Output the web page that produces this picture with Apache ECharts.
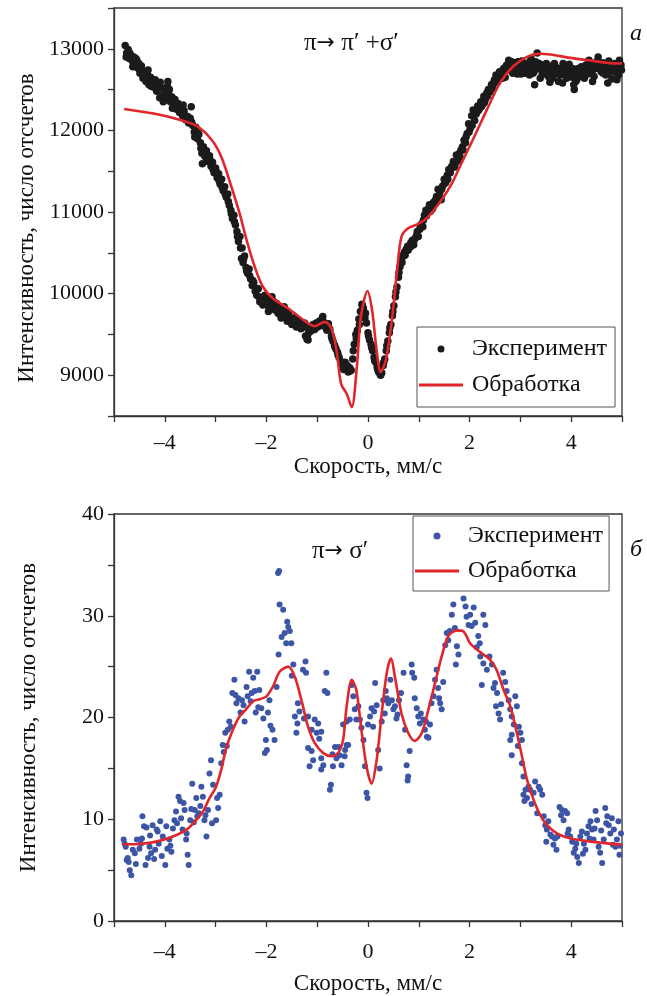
<!DOCTYPE html>
<html>
<head>
<meta charset="utf-8">
<script src="https://cdn.jsdelivr.net/npm/echarts@6/dist/echarts.min.js"></script>
<style>
    html, body { margin: 0; padding: 0; background: #fff; }
    #main { width: 647px; height: 996px; }
</style>
</head>
<body>
<div id="main"></div>
<script>
// панель а: эксперимент (скорость, мм/с ; число отсчетов)
var expA = [
    [-4.78,13040],[-4.75,12950],[-4.72,12990],[-4.70,12880],[-4.67,12920],[-4.64,12850],[-4.61,12900],[-4.58,12780],
    [-4.55,12860],[-4.52,12760],[-4.49,12700],[-4.46,12790],[-4.43,12640],[-4.40,12720],[-4.37,12600],[-4.34,12680],
    [-4.31,12560],[-4.28,12650],[-4.25,12590],[-4.22,12530],[-4.19,12620],[-4.16,12480],[-4.13,12560],[-4.10,12400],
    [-4.07,12520],[-4.04,12430],[-4.01,12480],[-3.98,12380],[-3.95,12540],[-3.92,12440],[-3.89,12350],[-3.86,12410],
    [-3.83,12300],[-3.80,12380],[-3.77,12260],[-3.74,12330],[-3.71,12220],[-3.68,12290],[-3.65,12180],[-3.62,12240],
    [-3.59,12130],[-3.53,12090],[-3.50,12150],[-3.48,12290],[-3.45,12060],[-3.42,11980],[-3.39,12040],[-3.36,11900],
    [-3.33,11950],[-3.30,11850],[-3.27,11720],[-3.24,11800],[-3.21,11680],[-3.18,11750],[-3.15,11620],[-3.12,11690],
    [-3.09,11560],[-3.06,11610],[-3.03,11480],[-3.00,11540],[-2.97,11420],[-2.94,11470],[-2.91,11340],[-2.88,11400],
    [-2.85,11260],[-2.82,11310],[-2.79,11180],[-2.76,11220],[-2.73,11080],[-2.70,11020],[-2.67,10920],[-2.64,10960],
    [-2.61,10840],[-2.58,10760],[-2.55,10640],[-2.52,10700],[-2.49,10430],[-2.46,10380],[-2.43,10460],[-2.40,10320],
    [-2.37,10250],[-2.34,10300],[-2.31,10180],[-2.28,10100],[-2.25,10140],[-2.22,10030],[-2.19,9980],[-2.16,10060],
    [-2.13,9900],[-2.10,9950],[-2.07,9860],[-2.04,9920],[-2.01,9870],[-1.98,9940],[-1.95,9830],[-1.92,9880],
    [-1.89,9960],[-1.86,9850],[-1.83,9800],[-1.80,9880],[-1.77,9760],[-1.74,9820],[-1.71,9700],[-1.68,9780],
    [-1.65,9840],[-1.62,9720],[-1.59,9660],[-1.56,9740],[-1.53,9680],[-1.50,9620],[-1.47,9700],[-1.44,9640],
    [-1.41,9590],[-1.38,9660],[-1.35,9610],[-1.32,9570],[-1.29,9640],[-1.26,9590],[-1.23,9480],[-1.20,9440],
    [-1.17,9520],[-1.14,9580],[-1.11,9560],[-1.08,9620],[-1.05,9560],[-1.02,9640],[-0.99,9590],[-0.96,9660],
    [-0.93,9610],[-0.90,9700],[-0.87,9650],[-0.84,9590],[-0.81,9550],[-0.78,9630],[-0.75,9560],[-0.72,9480],
    [-0.69,9420],[-0.66,9370],[-0.63,9320],[-0.60,9280],[-0.57,9220],[-0.54,9170],[-0.51,9120],[-0.48,9070],
    [-0.45,9160],[-0.42,9080],[-0.39,9040],[-0.36,9090],[-0.33,9060],[-0.30,9200],[-0.27,9380],[-0.24,9500],
    [-0.21,9550],[-0.18,9690],[-0.15,9780],[-0.12,9870],[-0.09,9820],[-0.06,9700],[-0.03,9640],[0.00,9520],
    [0.03,9430],[0.06,9380],[0.09,9300],[0.12,9220],[0.15,9160],[0.18,9100],[0.21,9040],[0.24,9010],
    [0.27,9030],[0.30,9120],[0.33,9200],[0.36,9300],[0.39,9420],[0.42,9520],[0.45,9620],[0.48,9730],
    [0.51,9850],[0.54,9960],[0.57,10080],[0.60,10200],[0.63,10330],[0.66,10420],[0.69,10470],[0.72,10510],
    [0.75,10540],[0.78,10580],[0.81,10560],[0.84,10620],[0.87,10650],[0.90,10600],[0.93,10680],[0.96,10720],
    [0.99,10700],[1.02,10790],[1.05,10850],[1.08,10820],[1.11,10960],[1.14,11020],[1.17,10990],[1.20,11050],
    [1.23,11010],[1.26,11080],[1.29,11120],[1.32,11100],[1.35,11190],[1.38,11280],[1.41,11230],[1.44,11150],
    [1.47,11320],[1.50,11400],[1.53,11360],[1.56,11450],[1.59,11520],[1.62,11480],[1.65,11560],[1.68,11620],
    [1.71,11550],[1.74,11700],[1.77,11640],[1.80,11720],[1.83,11760],[1.86,11800],[1.89,11880],[1.92,11850],
    [1.95,11960],[1.98,12080],[2.01,12020],[2.04,12180],[2.07,12250],[2.10,12120],[2.13,12200],[2.16,12300],
    [2.19,12260],[2.22,12350],[2.25,12310],[2.28,12420],[2.31,12380],[2.34,12460],[2.37,12500],[2.40,12470],
    [2.43,12560],[2.46,12520],[2.49,12620],[2.52,12680],[2.55,12590],[2.58,12660],[2.61,12720],[2.64,12690],
    [2.67,12760],[2.70,12650],[2.73,12800],[2.76,12740],[2.79,12820],[2.82,12780],[2.85,12700],[2.88,12830],
    [2.91,12760],[2.94,12690],[2.97,12800],[3.00,12740],[3.03,12850],[3.06,12780],[3.09,12700],[3.12,12820],
    [3.15,12760],[3.18,12680],[3.21,12880],[3.24,12790],[3.27,12720],[3.30,12840],[3.33,12950],[3.36,12760],
    [3.39,12640],[3.42,12800],[3.45,12740],[3.48,12690],[3.51,12820],[3.54,12760],[3.57,12700],[3.60,12790],
    [3.63,12640],[3.66,12720],[3.69,12780],[3.72,12690],[3.75,12600],[3.78,12760],[3.81,12720],[3.84,12820],
    [3.87,12680],[3.90,12760],[3.93,12710],[3.96,12810],[3.99,12740],[4.02,12650],[4.05,12560],[4.08,12700],
    [4.11,12620],[4.14,12760],[4.17,12690],[4.20,12780],[4.23,12720],[4.26,12640],[4.29,12800],[4.32,12740],
    [4.35,12860],[4.38,12790],[4.41,12700],[4.44,12810],[4.47,12760],[4.50,12840],[4.53,12900],[4.56,12780],
    [4.59,12720],[4.62,12830],[4.65,12760],[4.68,12680],[4.71,12800],[4.74,12850],[4.77,12740],[4.80,12630],
    [4.83,12780],[4.86,12820],[4.89,12700],[4.92,12760],[4.95,12860],[4.98,12800],
    [-4.76,12900],[-4.69,12950],[-4.63,12780],[-4.57,12880],[-4.51,12820],[-4.45,12700],[-4.39,12650],[-4.33,12740],
    [-4.27,12540],[-4.21,12600],[-4.15,12540],[-4.09,12590],[-4.03,12350],[-3.97,12470],[-3.91,12500],[-3.85,12270],
    [-3.79,12320],[-3.73,12280],[-3.67,12230],[-3.61,12190],[-3.55,12170],[-3.47,12100],[-3.41,11920],[-3.35,11970],
    [-3.29,11780],[-3.23,11740],[-3.17,11660],[-3.11,11640],[-3.05,11520],[-2.99,11500],[-2.93,11380],[-2.87,11300],
    [-2.81,11220],[-2.75,11130],[-2.69,10980],[-2.63,10880],[-2.57,10700],[-2.51,10560],[-2.45,10420],[-2.39,10280],
    [-2.33,10220],[-2.27,10160],[-2.21,10070],[-2.15,9960],[-2.09,9900],[-2.03,9980],[-1.97,9890],[-1.91,9830],
    [-1.85,9900],[-1.79,9800],[-1.73,9740],[-1.67,9720],[-1.61,9790],[-1.55,9690],[-1.49,9660],[-1.43,9700],
    [-1.37,9620],[-1.31,9600],[-1.25,9640],[-1.19,9490],[-1.13,9540],[-1.07,9590],[-1.01,9600],[-0.95,9630],
    [-0.89,9720],[-0.83,9620],[-0.77,9580],[-0.71,9450],[-0.65,9350],[-0.59,9250],[-0.53,9150],[-0.47,9110],
    [-0.41,9120],[-0.35,9050],[-0.29,9300],[-0.23,9450],[-0.17,9620],[-0.11,9850],[-0.05,9760],[0.01,9480],
    [0.07,9340],[0.13,9180],[0.19,9070],[0.25,9000],[0.31,9160],[0.37,9360],[0.43,9580],[0.49,9780],
    [0.55,10020],[0.61,10260],[0.67,10380],[0.73,10470],[0.79,10530],[0.85,10580],[0.91,10660],[0.97,10760],
    [1.03,10830],[1.09,10900],[1.15,10950],[1.21,11090],[1.27,11040],[1.33,11150],[1.39,11200],[1.45,11280],
    [1.51,11350],[1.57,11400],[1.63,11530],[1.69,11580],[1.75,11620],[1.81,11680],[1.87,11760],[1.93,11920],
    [1.99,11980],[2.05,12060],[2.11,12230],[2.17,12240],[2.23,12290],[2.29,12340],[2.35,12420],[2.41,12510],
    [2.47,12580],[2.53,12600],[2.59,12720],[2.65,12640],[2.71,12780],[2.77,12860],[2.83,12840],[2.89,12750],
    [2.95,12840],[3.01,12690],[3.07,12820],[3.13,12760],[3.19,12840],[3.25,12700],[3.31,12780],[3.37,12820],
    [3.43,12700],[3.49,12780],[3.55,12660],[3.61,12740],[3.67,12820],[3.73,12740],[3.79,12680],[3.85,12760],
    [3.91,12640],[3.97,12700],[4.03,12760],[4.09,12600],[4.15,12700],[4.21,12660],[4.27,12760],[4.33,12690],
    [4.39,12750],[4.45,12660],[4.51,12760],[4.57,12820],[4.63,12700],[4.69,12760],[4.75,12700],[4.81,12800],
    [4.87,12760],[4.93,12680],[4.99,12740],
    [-3.94,12600],[-3.64,12310],[-3.26,11590],[-2.48,10560],[-1.96,9780],[-1.18,9430],[3.28,12560],[3.58,12590],
    [3.83,12580],[4.06,12500],[4.42,12600],[4.72,12580],[4.90,12620]
];
// панель а: обработка
var fitA = [
    [-4.80,12263],[-4.10,12193],[-3.71,12131],[-3.38,12058],[-3.08,11886],[-2.89,11680],[-2.69,11312],[-2.53,10988],
    [-2.39,10657],[-2.23,10329],[-2.07,10084],[-1.87,9941],[-1.57,9818],[-1.31,9695],[-1.05,9600],[-0.85,9654],
    [-0.72,9572],[-0.62,9306],[-0.53,8896],[-0.42,8773],[-0.32,8609],[-0.22,9100],[-0.14,9715],[-0.01,10031],
    [0.08,9797],[0.17,9306],[0.25,9039],[0.35,9183],[0.47,9674],[0.58,10329],[0.66,10698],[0.79,10801],
    [0.99,10854],[1.19,10944],[1.45,11149],[1.66,11360],[1.81,11558],[2.08,11907],[2.34,12254],[2.60,12582],
    [2.86,12786],[3.13,12902],[3.36,12939],[3.59,12930],[3.98,12889],[4.38,12856],[4.71,12828],[5.00,12819]
];
// панель б: эксперимент
var expB = [
    [-4.81,8.0],[-4.77,7.3],[-4.75,6.0],[-4.73,6.2],[-4.69,5.0],[-4.66,4.5],[-4.59,6.65],[-4.55,8.0],
    [-4.50,7.1],[-4.45,8.1],[-4.44,10.3],[-4.41,9.3],[-4.38,5.5],[-4.33,6.2],[-4.30,7.3],[-4.27,6.65],
    [-4.24,9.4],[-4.19,7.0],[-4.16,9.0],[-4.12,7.6],[-4.09,9.8],[-4.04,8.3],[-3.99,5.5],[-3.95,7.1],
    [-3.91,8.0],[-3.87,6.8],[-3.84,9.1],[-3.81,9.9],[-3.78,10.75],[-3.73,12.2],[-3.68,10.1],[-3.65,9.0],
    [-3.61,10.9],[-3.58,8.0],[-3.55,6.5],[-3.53,5.5],[-3.50,9.9],[-3.46,13.5],[-3.41,10.9],[-3.38,12.1],
    [-3.33,10.6],[-3.28,13.2],[-3.25,12.2],[-3.22,9.9],[-3.18,8.3],[-3.15,10.9],[-3.12,14.5],[-3.09,15.8],
    [-3.05,13.4],[-2.99,9.9],[-2.95,11.1],[-2.92,12.4],[-2.89,15.5],[-2.86,17.3],[-2.81,18.5],[-2.76,18.8],
    [-2.73,19.6],[-2.67,22.4],[-2.63,23.7],[-2.59,21.4],[-2.55,21.9],[-2.51,20.5],[-2.48,21.7],[-2.43,19.6],
    [-2.39,23.0],[-2.34,24.5],[-2.29,22.4],[-2.26,23.9],[-2.21,20.5],[-2.18,24.5],[-2.14,22.7],[-2.10,20.9],
    [-2.06,19.9],[-2.03,16.5],[-2.01,17.8],[-1.97,20.5],[-1.94,21.7],[-1.88,18.8],[-1.84,17.8],[-1.80,23.0],
    [-1.77,34.2],[-1.75,34.4],[-1.74,31.1],[-1.76,26.2],[-1.67,30.6],[-1.64,28.3],[-1.61,27.3],[-1.59,29.4],
    [-1.54,28.5],[-1.51,27.3],[-1.47,25.2],[-1.44,20.1],[-1.41,18.5],[-1.39,19.4],[-1.38,21.4],[-1.28,24.7],
    [-1.23,25.5],[-1.22,24.4],[-1.18,20.1],[-1.18,17.0],[-1.15,15.2],[-1.11,18.8],[-1.11,16.7],[-1.08,15.8],
    [-1.05,19.8],[-1.01,18.5],[-0.98,19.4],[-0.92,18.6],[-0.92,16.0],[-0.92,14.9],[-0.88,15.3],[-0.85,22.6],
    [-0.82,24.4],[-0.80,22.4],[-0.75,12.9],[-0.73,13.4],[-0.69,15.2],[-0.65,17.1],[-0.62,16.0],[-0.56,16.3],
    [-0.52,15.3],[-0.49,19.3],[-0.46,16.2],[-0.42,17.3],[-0.42,19.6],[-0.39,17.3],[-0.36,19.8],[-0.32,23.2],
    [-0.29,22.1],[-0.26,20.8],[-0.23,19.8],[-0.19,21.1],[-0.16,19.8],[-0.13,19.0],[-0.09,17.8],[-0.06,15.2],
    [-0.03,12.6],[-0.01,12.1],[0.04,20.1],[0.07,20.9],[0.10,19.1],[0.14,23.4],[0.17,21.2],[0.20,16.8],
    [0.23,15.0],[0.27,19.6],[0.30,21.7],[0.33,20.4],[0.37,21.9],[0.40,21.4],[0.44,23.7],[0.47,21.7],
    [0.50,20.8],[0.53,21.1],[0.56,19.9],[0.61,21.7],[0.65,22.4],[0.70,24.4],[0.73,18.8],[0.76,15.3],
    [0.78,13.8],[0.79,14.2],[0.82,16.7],[0.86,25.2],[0.87,24.4],[0.91,23.9],[0.92,21.9],[0.96,20.9],
    [0.99,20.1],[1.04,20.4],[1.09,19.8],[1.12,18.8],[1.16,18.1],[1.19,18.0],[1.22,19.3],[1.25,21.4],
    [1.29,22.1],[1.32,23.7],[1.35,24.7],[1.38,22.9],[1.42,21.4],[1.45,20.8],[1.48,23.5],[1.52,27.1],
    [1.55,28.3],[1.58,27.6],[1.61,28.5],[1.65,30.1],[1.68,31.1],[1.71,28.8],[1.73,25.2],[1.75,27.0],
    [1.78,26.2],[1.88,31.7],[1.92,30.9],[1.94,29.9],[1.98,29.1],[2.01,30.1],[2.04,29.0],[2.08,30.8],
    [2.11,29.3],[2.17,28.0],[2.20,27.3],[2.21,26.0],[2.24,23.2],[2.27,30.1],[2.27,25.3],[2.31,29.1],
    [2.34,24.7],[2.39,26.0],[2.44,25.2],[2.47,22.9],[2.52,21.1],[2.54,22.4],[2.57,20.4],[2.60,19.8],
    [2.66,24.4],[2.70,23.5],[2.73,22.6],[2.77,21.7],[2.80,20.8],[2.80,17.8],[2.83,20.1],[2.83,18.3],
    [2.83,16.3],[2.87,19.3],[2.90,22.1],[2.93,21.1],[2.97,19.1],[3.00,18.5],[3.03,17.8],[3.03,15.5],
    [3.06,14.2],[3.06,12.4],[3.10,12.9],[3.13,12.1],[3.16,13.2],[3.19,12.9],[3.26,12.6],[3.29,13.7],
    [3.36,13.2],[3.39,12.9],[3.43,12.4],[3.46,10.3],[3.49,9.4],[3.51,7.8],[3.52,9.0],[3.59,8.5],
    [3.62,8.3],[3.65,7.5],[3.71,7.0],[3.73,8.3],[3.77,11.2],[3.82,10.9],[3.85,9.9],[3.88,10.8],
    [3.92,10.6],[3.95,9.0],[3.98,8.3],[4.02,7.8],[4.05,6.7],[4.08,7.1],[4.12,6.3],[4.15,5.7],
    [4.18,8.3],[4.21,8.8],[4.25,7.6],[4.28,7.0],[4.31,8.6],[4.34,9.3],[4.38,9.8],[4.41,9.0],
    [4.44,8.0],[4.48,10.8],[4.51,9.9],[4.54,7.3],[4.57,6.7],[4.61,5.7],[4.64,8.0],[4.67,11.1],
    [4.71,10.3],[4.74,9.4],[4.77,8.6],[4.80,10.1],[4.84,9.0],[4.87,7.3],[4.90,8.0],[4.93,9.8],
    [4.95,6.5],[4.98,8.6],
    [-4.79,7.6],[-4.71,5.8],[-4.63,7.0],[-4.57,5.6],[-4.47,7.6],[-4.36,9.2],[-4.29,8.4],[-4.21,6.1],
    [-4.14,8.8],[-4.06,6.4],[-3.97,9.3],[-3.89,7.4],[-3.76,9.6],[-3.70,11.8],[-3.63,11.6],[-3.57,8.6],
    [-3.48,11.0],[-3.43,9.7],[-3.36,10.3],[-3.30,11.3],[-3.20,10.4],[-3.07,9.6],[-2.97,12.1],[-2.84,16.6],
    [-2.78,17.2],[-2.70,19.1],[-2.61,22.2],[-2.45,21.2],[-2.37,22.1],[-2.31,21.6],[-2.23,22.6],[-2.16,21.0],
    [-1.99,16.8],[-1.92,19.2],[-1.70,27.9],[-1.57,28.9],[-1.50,24.1],[-1.35,20.6],[-1.26,19.9],[-0.96,17.9],
    [-0.70,16.4],[-0.58,17.1],[-0.45,16.8],[0.00,19.3],[0.12,20.6],[0.35,22.6],[0.58,20.3],[1.02,19.4],
    [1.14,19.6],[1.40,21.9],[2.14,26.9],[2.50,23.4],[2.62,21.3],[2.95,17.2],[3.08,11.8],[3.22,11.5],
    [3.33,10.6],[3.55,9.8],[3.68,8.1],[3.80,10.4],[3.93,8.6],[4.10,7.6],[4.23,6.6],[4.36,8.1],
    [4.46,9.1],[4.59,8.9],[4.69,9.6],[4.82,7.5],[4.96,7.4]
];
// панель б: обработка
var fitB = [
    [-4.83,7.54],[-4.50,7.57],[-4.17,7.8],[-3.84,8.3],[-3.58,8.95],[-3.38,9.93],[-3.25,10.75],[-3.12,12.07],
    [-2.99,13.2],[-2.89,14.85],[-2.79,17.0],[-2.66,18.8],[-2.53,20.1],[-2.40,20.8],[-2.26,21.6],[-2.13,21.8],
    [-2.00,22.07],[-1.87,23.05],[-1.74,24.5],[-1.57,25.0],[-1.44,24.0],[-1.31,21.7],[-1.18,19.1],[-1.05,17.5],
    [-0.88,16.5],[-0.72,16.2],[-0.59,16.5],[-0.49,17.8],[-0.42,21.1],[-0.32,23.7],[-0.23,22.7],[-0.13,18.8],
    [-0.03,15.2],[0.07,13.5],[0.17,15.8],[0.27,20.4],[0.37,24.4],[0.45,25.8],[0.54,23.7],[0.66,20.4],
    [0.79,18.5],[0.92,17.7],[1.06,18.5],[1.19,20.8],[1.32,23.4],[1.45,26.0],[1.58,28.0],[1.75,28.56],
    [1.88,28.46],[2.01,27.3],[2.14,26.7],[2.27,26.2],[2.40,25.7],[2.53,24.7],[2.67,22.7],[2.80,21.1],
    [2.93,18.5],[3.03,16.2],[3.13,13.9],[3.26,11.9],[3.39,10.4],[3.52,9.44],[3.72,8.62],[3.98,8.13],
    [4.25,7.9],[4.57,7.7],[5.00,7.48]
];

var legendNames = { expA: 'Эксперимент', fitA: 'Обработка', expB: 'Эксперимент', fitB: 'Обработка' };

var serif = '"Liberation Serif", "Times New Roman", serif';
var ink = '#111';
var red = '#e0262b';
var lineIcon = 'path://M0,0h44v3h-44z';

var xLabel = function (v) {
    if (v % 2 !== 0) return '';
    return v < 0 ? '\u2013' + (-v) : String(v);
};

var xAxisBase = function (idx, labelMargin, nameGap) {
    return {
        type: 'value', gridIndex: idx, min: -5, max: 5, interval: 1,
        name: 'Скорость, мм/с', nameLocation: 'middle', nameGap: nameGap,
        nameTextStyle: { fontFamily: serif, fontSize: 23, color: ink },
        axisLine: { onZero: false, lineStyle: { color: '#333', width: 1.3 } },
        axisTick: { length: 6, lineStyle: { color: '#333', width: 1.3 } },
        axisLabel: { formatter: xLabel, margin: labelMargin, fontFamily: serif, fontSize: 22, color: ink, showMinLabel: true, showMaxLabel: true },
        splitLine: { show: false }
    };
};

var yAxisBase = function (idx, min, max, step, labelEvery, namePad) {
    return {
        type: 'value', gridIndex: idx, min: min, max: max, interval: step,
        name: 'Интенсивность, число отсчетов', nameLocation: 'middle', nameGap: 74,
        nameTextStyle: { fontFamily: serif, fontSize: 23, color: ink, padding: namePad },
        axisLine: { show: true, onZero: false, lineStyle: { color: '#333', width: 1.3 } },
        axisTick: { show: true, length: 6, lineStyle: { color: '#333', width: 1.3 } },
        axisLabel: {
            margin: 10, fontFamily: serif, fontSize: 22, color: ink,
            formatter: function (v) { return v % labelEvery === 0 ? String(v) : ''; }
        },
        splitLine: { show: false }
    };
};

var legendBase = function (left, top, names, pad, gap) {
    return {
        left: left, top: top, orient: 'vertical',
        data: [names[0], { name: names[1], icon: lineIcon }],
        formatter: function (n) { return legendNames[n]; },
        itemWidth: 44, itemHeight: 7, itemGap: gap, padding: pad,
        borderColor: '#555', borderWidth: 1, backgroundColor: '#fff',
        textStyle: { fontFamily: serif, fontSize: 24, color: ink, padding: [0, 0, 0, 4] }
    };
};

// стрелка в подписи переходов крупнее, берём шрифт DejaVu
var arrowRich = {
    ar: { fontFamily: '"DejaVu Sans"', fontSize: 22, color: ink }
};
var textStyle = { fontFamily: serif, fontSize: 25, fontWeight: 'normal', color: ink, rich: arrowRich };
var italicStyle = { fontFamily: serif, fontSize: 24, fontWeight: 'normal', fontStyle: 'italic', color: ink };

var option = {
    backgroundColor: '#fff',
    animation: false,
    title: [
        { text: 'π{ar|→} π′ +σ′', left: 304, top: 31, padding: 0, textStyle: textStyle },
        { text: 'а', left: 630, top: 22, padding: 0, textStyle: italicStyle },
        { text: 'π{ar|→} σ′', left: 312, top: 539, padding: 0, textStyle: textStyle },
        { text: 'б', left: 630, top: 538, padding: 0, textStyle: italicStyle }
    ],
    legend: [
        legendBase(417, 327, ['expA', 'fitA'], [10, 8, 10, 2], 12),
        legendBase(413, 516, ['expB', 'fitB'], [8, 6, 8, 2], 11)
    ],
    grid: [
        { left: 114, top: 8, width: 508, height: 408, show: true, borderColor: '#333', borderWidth: 1.3 },
        { left: 114, top: 514, width: 508, height: 407, show: true, borderColor: '#333', borderWidth: 1.3 }
    ],
    xAxis: [ xAxisBase(0, 16, 39), xAxisBase(1, 20, 51) ],
    yAxis: [
        yAxisBase(0, 8500, 13500, 500, 1000, [0, 32, 0, 0]),
        yAxisBase(1, 0, 40, 5, 10, [0, 0, 0, 0])
    ],
    series: [
        {
            name: 'expA', type: 'scatter', xAxisIndex: 0, yAxisIndex: 0,
            data: expA, symbolSize: 7.5, itemStyle: { color: '#1b1b1b', opacity: 1 }
        },
        {
            name: 'fitA', type: 'line', xAxisIndex: 0, yAxisIndex: 0,
            data: fitA, smooth: 0.3, symbol: 'none', lineStyle: { color: red, width: 2.6 }, itemStyle: { color: red }
        },
        {
            name: 'expB', type: 'scatter', xAxisIndex: 1, yAxisIndex: 1,
            data: expB, symbolSize: 6, itemStyle: { color: '#3c55a5', opacity: 1 }
        },
        {
            name: 'fitB', type: 'line', xAxisIndex: 1, yAxisIndex: 1,
            data: fitB, smooth: 0.3, symbol: 'none', lineStyle: { color: red, width: 2.6 }, itemStyle: { color: red }
        }
    ]
};

var myChart = echarts.init(document.getElementById('main'));
myChart.setOption(option);
</script>
</body>
</html>
